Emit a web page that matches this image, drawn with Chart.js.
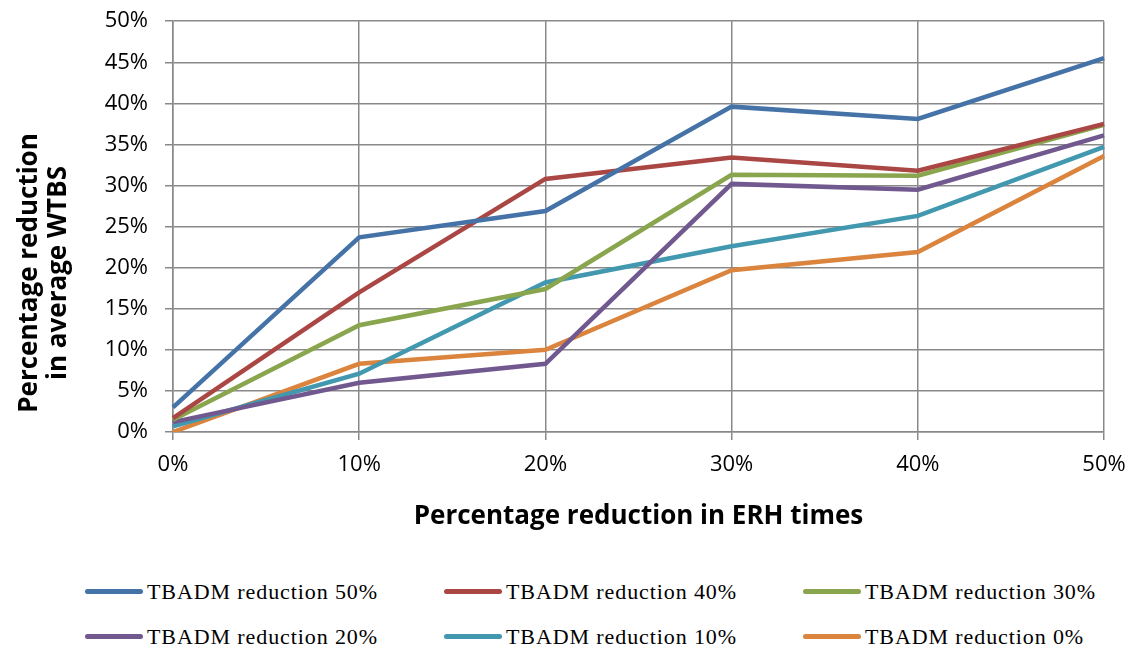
<!DOCTYPE html>
<html>
<head>
<meta charset="utf-8">
<script src="https://cdn.jsdelivr.net/npm/chart.js@4"></script>
<style>
  body { margin: 0; background: #fff; }
  #wrap { position: relative; width: 1138px; height: 650px; overflow: hidden; }
  #chartBox { position: absolute; left: 0; top: -9px; width: 1138px; height: 569px; }
  #legend { position: absolute; left: 85px; top: 569px; width: 1100px; font-family: "Liberation Serif", "Times New Roman", serif; font-size: 22px; letter-spacing: 0.9px; color: #000; }
  .row { display: flex; height: 45px; align-items: center; }
  .item { display: flex; align-items: center; width: 359px; flex-shrink: 0; }
  .swatch { width: 58px; height: 5px; border-radius: 3px; margin-right: 4px; }
</style>
</head>
<body>
<div id="wrap">
  <div id="chartBox"><canvas id="chart1"></canvas></div>
  <div id="legend"></div>
</div>
<script>
// x categories: reduction in ERH times
const xLabels = ['0%', '10%', '20%', '30%', '40%', '50%'];

// series values (% reduction in average WTBS)
const tbadm50 = [3.0, 23.7, 26.9, 39.6, 38.1, 45.5];
const tbadm40 = [1.7, 17.0, 30.8, 33.4, 31.8, 37.5];
const tbadm30 = [1.5, 13.0, 17.4, 31.3, 31.2, 37.4];
const tbadm20 = [1.2, 6.0, 8.3, 30.2, 29.5, 36.1];
const tbadm10 = [0.7, 7.1, 18.2, 22.6, 26.3, 34.7];
const tbadm0 = [0.0, 8.3, 10.0, 19.7, 21.9, 33.6];

const seriesNames = ['TBADM reduction 50%', 'TBADM reduction 40%', 'TBADM reduction 30%',
  'TBADM reduction 20%', 'TBADM reduction 10%', 'TBADM reduction 0%'];
const seriesColors = ['#4572A7', '#AA4643', '#89A54E', '#71588F', '#4198AF', '#DB843D'];

const gridColor = '#898989';
const fontFam = '"Open Sans", Lato, sans-serif';
const labelFont = { family: fontFam, size: 22 };

// y axis title, two lines, drawn where the original sits
const yTitlePlugin = {
  id: 'yTitle',
  afterDraw(chart) {
    const ctx = chart.ctx;
    ctx.save();
    ctx.fillStyle = '#000';
    ctx.font = 'bold 26px ' + fontFam;
    ctx.textAlign = 'center';
    ctx.textBaseline = 'middle';
    const lines = [['Percentage reduction', 30], ['in average WTBS', 59]];
    lines.forEach(([txt, x]) => {
      ctx.save();
      ctx.translate(x, 282); // +9 for the shifted canvas
      ctx.rotate(-Math.PI / 2);
      ctx.fillText(txt, 0, 0);
      ctx.restore();
    });
    ctx.restore();
  }
};

const allData = [tbadm50, tbadm40, tbadm30, tbadm20, tbadm10, tbadm0];
const datasets = allData.map((d, i) => ({
  label: seriesNames[i],
  data: d,
  borderColor: seriesColors[i],
  backgroundColor: seriesColors[i],
  borderWidth: 4.5,
  pointRadius: 0,
  tension: 0,
  fill: false
}));

const ctx1 = document.getElementById('chart1').getContext('2d');
new Chart(ctx1, {
  type: 'line',
  data: { labels: xLabels, datasets: datasets },
  plugins: [yTitlePlugin],
  options: {
    responsive: true,
    maintainAspectRatio: false,
    animation: false,
    layout: { padding: { left: 0, right: 34, top: 15, bottom: 20 } },
    plugins: {
      legend: { display: false },
      tooltip: { enabled: false }
    },
    scales: {
      x: {
        offset: false,
        grid: { color: gridColor, lineWidth: 1.5, tickLength: 8, drawTicks: true },
        border: { color: gridColor, width: 1.5 },
        ticks: { color: '#000', font: labelFont, padding: 12, maxRotation: 0 },
        title: {
          display: true,
          text: 'Percentage reduction in ERH times',
          color: '#000',
          font: { family: fontFam, size: 26, weight: 'bold' },
          padding: { top: 4, bottom: 8 }
        },
        afterFit(scale) { scale.height = 108; }
      },
      y: {
        min: 0,
        max: 50,
        grid: { color: gridColor, lineWidth: 1.5, tickLength: 8 },
        border: { color: gridColor, width: 1.5 },
        ticks: {
          stepSize: 5,
          color: '#000',
          font: labelFont,
          padding: 17,
          callback: v => v + '%'
        },
        afterFit(scale) { scale.width = 173; }
      }
    }
  }
});

// legend in 2 rows x 3 columns
const legendEl = document.getElementById('legend');
for (let r = 0; r < 2; r++) {
  const row = document.createElement('div');
  row.className = 'row';
  for (let c = 0; c < 3; c++) {
    const i = r * 3 + c;
    const item = document.createElement('div');
    item.className = 'item';
    const sw = document.createElement('span');
    sw.className = 'swatch';
    sw.style.background = seriesColors[i];
    const tx = document.createElement('span');
    tx.textContent = seriesNames[i];
    item.appendChild(sw);
    item.appendChild(tx);
    row.appendChild(item);
  }
  legendEl.appendChild(row);
}
</script>
</body>
</html>
